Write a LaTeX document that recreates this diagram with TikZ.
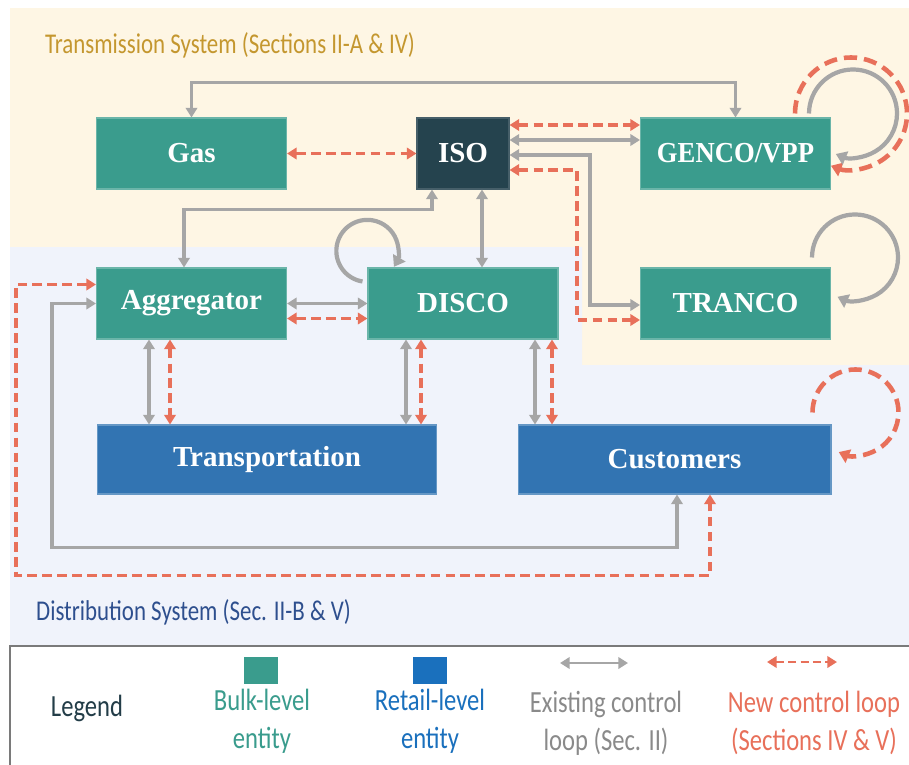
\documentclass[tikz,border=0pt]{standalone}
\usepackage{fontspec}
\setmainfont{Liberation Serif}
\newfontfamily\lab[FakeStretch=0.8]{Carlito}
\usetikzlibrary{arrows.meta,calc}
\definecolor{cream}{HTML}{FEF6E4}
\definecolor{lav}{HTML}{F0F3FB}
\definecolor{tealc}{HTML}{3A9C8D}
\definecolor{bluec}{HTML}{3274B2}
\definecolor{isoc}{HTML}{25434E}
\definecolor{ggray}{HTML}{A6A6A6}
\definecolor{oorange}{HTML}{E8705A}
\definecolor{goldc}{HTML}{C4972F}
\definecolor{navyc}{HTML}{2E4F8E}
\definecolor{legdark}{HTML}{233D48}
\definecolor{legblue}{HTML}{1A70BD}
\definecolor{leggray}{HTML}{8A8A8A}
\definecolor{legborder}{HTML}{7A7A7A}
\begin{document}
\begin{tikzpicture}[x=0.02cm,y=-0.02cm,
  box/.style={rectangle, inner sep=0pt, minimum width=3.8cm, minimum height=1.42cm,
    font=\fontsize{16.5}{18}\selectfont\bfseries, text=white, line width=0.6pt},
  bulk/.style={box, fill=tealc, draw=tealc!75!white},
  retail/.style={box, fill=bluec, draw=bluec!75!white, minimum height=1.38cm},
  isobox/.style={box, fill=isoc, draw=isoc!85!white, minimum width=1.84cm},
  exist/.style={draw=ggray, line width=2pt,
    arrows={Triangle[length=5.5pt,width=6.5pt]-Triangle[length=5.5pt,width=6.5pt]}},
  newl/.style={draw=oorange, line width=2pt, dash pattern=on 5.5pt off 3pt,
    arrows={Triangle[length=5.5pt,width=6.5pt]-Triangle[length=5.5pt,width=6.5pt]}},
  existloop/.style={draw=ggray, line width=2.4pt, -{Triangle[length=6pt,width=8pt]}},
  newloop/.style={draw=oorange, line width=2.6pt, dash pattern=on 7.5pt off 4pt,
    -{Triangle[length=6pt,width=8pt]}},
  ttl/.style={font=\lab\fontsize{16.3}{19}\selectfont, anchor=west},
  legtxt/.style={font=\lab\fontsize{17.5}{21.6}\selectfont, align=center},
  sq/.style={rectangle, inner sep=0pt, minimum width=0.68cm, minimum height=0.54cm}
]
\useasboundingbox (0,0) rectangle (909,764);
% backgrounds
\fill[cream] (10,8) rectangle (909,365);
\fill[lav] (10,247) -- (582,247) -- (582,365) -- (909,365) -- (909,646) -- (10,646) -- cycle;
% region labels
\node[ttl, text=goldc] (ttlT) at (39,45) {Transmission System (Sections II-A \& IV)};
\node[ttl, text=navyc] (ttlD) at (30,612) {Distribution System (Sec. II-B \& V)};
% nodes
\node[bulk] (gas) at (191.5,153.5) {Gas};
\node[isobox] (iso) at (463,153.5) {ISO};
\node[bulk] (genco) at (735.5,153.5) {\scalebox{0.92}[1]{GENCO/VPP}};
\node[bulk] (agg) at (191.5,303.5) {Aggregator};
\node[bulk] (disco) at (463,303.5) {DISCO};
\node[bulk] (tranco) at (735.5,303.5) {TRANCO};
\node[retail, minimum width=6.8cm] (trans) at (267,459.5) {Transportation};
\node[retail, minimum width=6.26cm] (cust) at (674.5,459.5) {Customers};
% transmission connectors
\draw[exist] (gas.north) -- ++(0,-35) -| (genco.north);
\draw[newl] (gas.east) -- (iso.west);
\draw[newl] ($(iso.east)+(0,-28.5)$) -- ($(genco.west)+(0,-28.5)$);
\draw[exist] ($(iso.east)+(0,-13.5)$) -- ($(genco.west)+(0,-13.5)$);
\draw[exist] ($(iso.east)+(0,1.5)$) -| ($(tranco.west)+(-50,1.5)$) -- ($(tranco.west)+(0,1.5)$);
\draw[newl] ($(iso.east)+(0,16.5)$) -| ($(tranco.west)+(-63,16.5)$) -- ($(tranco.west)+(0,16.5)$);
\draw[exist] ($(agg.north)+(-7.5,0)$) -- ++(0,-58) -| ($(iso.south)+(-31,0)$);
\coordinate (isod) at ($(iso.south)+(19,0)$);
\draw[exist] (isod) -- (isod |- disco.north);
% self loops
\draw[existloop] ($(disco.north west)+(-5,14)$) arc[start angle=99, end angle=391, radius=31];
\draw[newloop] ($(genco.north east)+(-36,-4)$) arc[start angle=180, end angle=471, radius=56];
\draw[existloop] ($(genco.north east)+(-22,-4)$) arc[start angle=180, end angle=473, radius=44];
\draw[existloop] ($(tranco.north east)+(-19,-10)$) arc[start angle=180, end angle=474, radius=43];
\draw[newloop] ($(cust.north east)+(-19,-12)$) arc[start angle=180, end angle=473, radius=43];
% distribution connectors
\draw[exist] (agg.east) -- (disco.west);
\draw[newl] ($(agg.east)+(0,15)$) -- ($(disco.west)+(0,15)$);
\coordinate (a1) at ($(agg.south)+(-42.5,0)$);
\coordinate (a2) at ($(agg.south)+(-21.5,0)$);
\coordinate (d1) at ($(disco.south)+(-57,0)$);
\coordinate (d2) at ($(disco.south)+(-42,0)$);
\coordinate (d3) at ($(disco.south)+(72,0)$);
\coordinate (d4) at ($(disco.south)+(89,0)$);
\draw[exist] (a1) -- (a1 |- trans.north);
\draw[newl] (a2) -- (a2 |- trans.north);
\draw[exist] (d1) -- (d1 |- trans.north);
\draw[newl] (d2) -- (d2 |- trans.north);
\draw[exist] (d3) -- (d3 |- cust.north);
\draw[newl] (d4) -- (d4 |- cust.north);
\draw[exist] (agg.west) -- ++(-44,0) |- ($(cust.south)+(2.5,53)$) -- ($(cust.south)+(2.5,0)$);
\draw[newl] ($(agg.west)+(0,-19)$) -- ++(-80,0) |- ($(cust.south)+(35.5,81)$) -- ($(cust.south)+(35.5,0)$);
% legend
\draw[draw=legborder, fill=white, line width=1.6pt] (10,646) rectangle (920,775);
\node[legtxt, text=legdark] (lg) at (87,708) {Legend};
\node[sq, fill=tealc] (sq1) at (261,670.5) {};
\node[sq, fill=legblue] (sq2) at (430,670.5) {};
\node[legtxt, text=tealc] (lbulk) at (262,721.5) {Bulk-level\\entity};
\node[legtxt, text=legblue] (lret) at (430,721.5) {Retail-level\\entity};
\node[legtxt, text=leggray] (lex) at (606,723) {Existing control\\loop (Sec. II)};
\node[legtxt, text=oorange] (lnew) at (814,723) {New control loop\\(Sections IV \& V)};
\coordinate (lga) at (560,663);
\coordinate (lgb) at (628,663);
\coordinate (lgc) at (767,662);
\coordinate (lgd) at (837,662);
\draw[exist, line width=1.6pt] (lga) -- (lgb);
\draw[newl, line width=1.6pt, dash pattern=on 4.5pt off 2.5pt] (lgc) -- (lgd);
\end{tikzpicture}
\end{document}
